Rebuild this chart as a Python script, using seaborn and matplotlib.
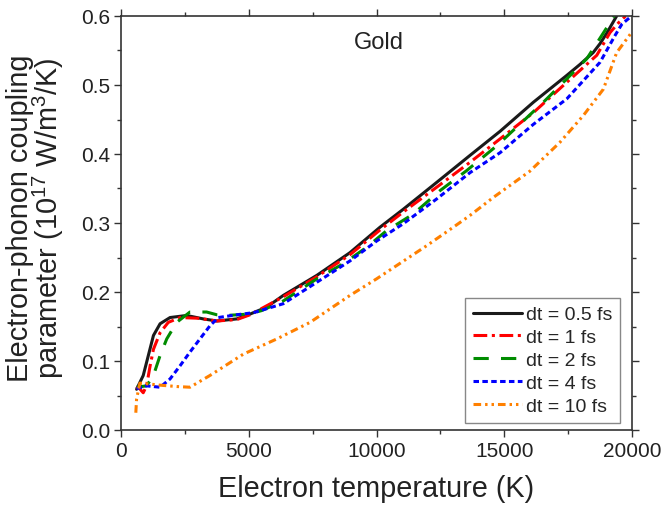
import numpy as np
import pandas as pd
import matplotlib
matplotlib.use("Agg")
import matplotlib.pyplot as plt
import seaborn as sns
from matplotlib.ticker import MultipleLocator

# ---- data ----
labels = ["dt = 0.5 fs", "dt = 1 fs", "dt = 2 fs", "dt = 4 fs", "dt = 10 fs"]

t_05 = [610, 870, 1070, 1270, 1530, 1920, 2570, 3220, 3750, 4530, 5050, 5700, 6350, 7660, 8960,
        10140, 11050, 12360, 13660, 14840, 16140, 17450, 17970, 18480, 18750, 19010, 19400]
g_05 = [0.059, 0.079, 0.108, 0.137, 0.154, 0.163, 0.166, 0.161, 0.158, 0.161, 0.168, 0.178, 0.195, 0.224, 0.257,
        0.294, 0.320, 0.359, 0.398, 0.433, 0.475, 0.514, 0.530, 0.547, 0.560, 0.575, 0.600]

t_1 = [600, 680, 870, 1000, 1140, 1270, 1530, 1850, 2310, 3000, 3750, 4530, 5050, 6350, 7660, 8960,
       10140, 11050, 12360, 13660, 14840, 16140, 17450, 18620, 19140, 19470, 19750]
g_1 = [0.060, 0.062, 0.054, 0.064, 0.093, 0.117, 0.141, 0.156, 0.163, 0.162, 0.158, 0.160, 0.167, 0.193, 0.222, 0.254,
       0.290, 0.316, 0.352, 0.388, 0.422, 0.460, 0.504, 0.543, 0.576, 0.590, 0.600]

t_2 = [610, 1000, 1270, 1530, 1790, 2180, 2700, 3350, 3750, 4130, 5000, 5500, 6350, 7660, 8700, 9620,
       10400, 11440, 12490, 13530, 14710, 16530, 17450, 18230, 19080, 19300]
g_2 = [0.062, 0.064, 0.079, 0.108, 0.132, 0.156, 0.171, 0.171, 0.167, 0.166, 0.168, 0.173, 0.187, 0.219, 0.241, 0.265,
       0.289, 0.313, 0.347, 0.376, 0.412, 0.475, 0.509, 0.538, 0.587, 0.600]

t_4 = [610, 1000, 1530, 1920, 2310, 2700, 3090, 3480, 3810, 4530, 5180, 6350, 7660, 8960,
       10010, 11050, 12360, 13660, 14840, 16140, 17450, 18750, 19340, 19600, 19920]
g_4 = [0.060, 0.064, 0.062, 0.074, 0.093, 0.113, 0.132, 0.151, 0.163, 0.167, 0.170, 0.183, 0.214, 0.245,
       0.274, 0.299, 0.335, 0.373, 0.402, 0.443, 0.480, 0.533, 0.572, 0.588, 0.598]

t_10 = [580, 610, 740, 1530, 2180, 2700, 3480, 4790, 6100, 7400, 8960, 10000, 11960, 13010, 13660,
        14570, 16000, 17180, 18100, 18880, 19400, 19800, 20000]
g_10 = [0.025, 0.045, 0.068, 0.065, 0.063, 0.062, 0.079, 0.110, 0.132, 0.156, 0.195, 0.219, 0.267, 0.294, 0.311,
        0.337, 0.375, 0.417, 0.456, 0.494, 0.547, 0.567, 0.577]

x_ticks = [0, 5000, 10000, 15000, 20000]
y_ticks = [0.0, 0.1, 0.2, 0.3, 0.4, 0.5, 0.6]

series_t = [t_05, t_1, t_2, t_4, t_10]
series_g = [g_05, g_1, g_2, g_4, g_10]

df = pd.concat([pd.DataFrame({"T": t, "G": g, "dt": lab})
                for t, g, lab in zip(series_t, series_g, labels)], ignore_index=True)

colors = ["#1a1a1a", "#ff0000", "#008c00", "#0000ff", "#ff8000"]
dashes = {
    labels[0]: "",
    labels[1]: (4.5, 1.5, 1.0, 1.5),
    labels[2]: (5.0, 4.0),
    labels[3]: (1.8, 1.1),
    labels[4]: (2.5, 1.3, 0.8, 1.3, 0.8, 1.3),
}

sns.set_theme(style="ticks")
plt.rcParams["font.family"] = ["Liberation Sans", "DejaVu Sans"]
plt.rcParams["mathtext.fontset"] = "custom"
plt.rcParams["mathtext.rm"] = "Liberation Sans"
plt.rcParams["mathtext.it"] = "Liberation Sans"
plt.rcParams["mathtext.bf"] = "Liberation Sans"

fig = plt.figure(figsize=(6.61, 5.06), dpi=100)
ax = fig.add_axes([121/661, 1-431/506, (632-121)/661, (431-17)/506])

sns.lineplot(data=df, x="T", y="G", hue="dt", style="dt", palette=colors,
             dashes=dashes, sort=False, estimator=None, linewidth=2.2, ax=ax)

ax.set_xlim(0, 20000)
ax.set_ylim(0, 0.6)
ax.set_xticks(x_ticks)
ax.set_xticklabels([str(v) for v in x_ticks])
ax.set_yticks(y_ticks)
ax.set_yticklabels([f"{v:.1f}" for v in y_ticks])
ax.xaxis.set_minor_locator(MultipleLocator(2500))
ax.yaxis.set_minor_locator(MultipleLocator(0.05))
ax.tick_params(which="both", direction="out", top=True, right=True, labeltop=False,
               labelright=False, color="#333333", width=1.0, labelsize=15, labelcolor="#222222")
ax.tick_params(which="major", length=5, pad=3)
ax.tick_params(which="minor", length=3)
for s in ax.spines.values():
    s.set_color("#333333")
    s.set_linewidth(1.2)

ax.set_xlabel("Electron temperature (K)", fontsize=20.8, color="#222222", labelpad=10)
ax.set_ylabel("Electron-phonon coupling\nparameter (10$^{17}$ W/m$^{3}$/K)", fontsize=20.8,
              color="#222222", labelpad=9, linespacing=0.9)
ax.yaxis.set_label_coords(-0.107, 0.515)

ax.text(0.505, 0.937, "Gold", transform=ax.transAxes, ha="center", va="center",
        fontsize=17, color="#222222")

leg = ax.legend(loc="lower right", bbox_to_anchor=(0.977, 0.017), borderaxespad=0,
                fontsize=14, frameon=True, fancybox=False, framealpha=1,
                edgecolor="#888888", handlelength=2.5, handletextpad=0.2,
                labelspacing=0.27, borderpad=0.42, title=None)
leg.get_frame().set_linewidth(1.0)

fig.savefig("out.png", dpi=100)
